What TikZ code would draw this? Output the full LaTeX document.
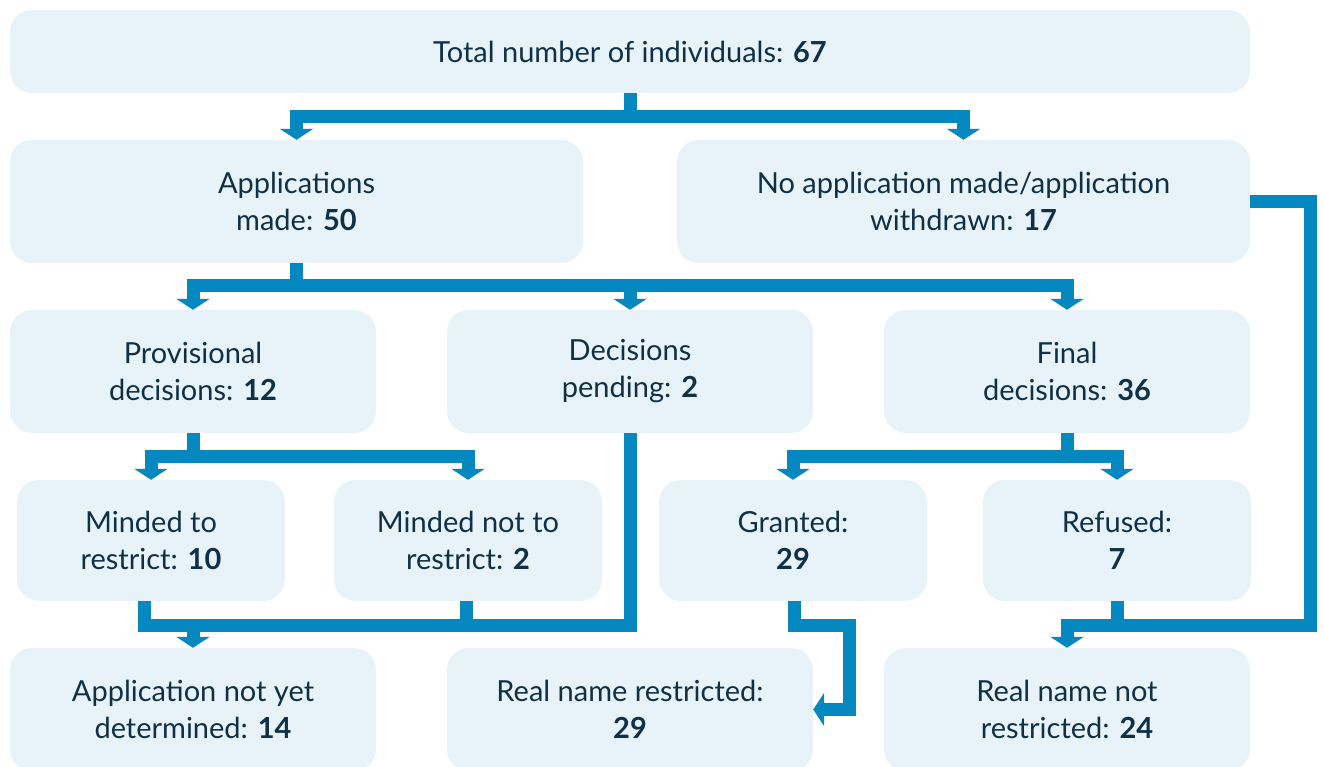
\documentclass[tikz,border=0pt]{standalone}
\usepackage{fontspec}
\setmainfont{Lato}
\usetikzlibrary{arrows.meta}
\definecolor{boxfill}{RGB}{231,243,248}
\definecolor{conn}{RGB}{5,135,191}
\definecolor{txt}{RGB}{16,48,71}
\tikzset{
  box/.style={rectangle, rounded corners=22pt, fill=boxfill, draw=none, inner sep=0pt,
    align=center, text=txt, font=\fontsize{29}{37}\selectfont},
  ln/.style={draw=conn, line width=13pt, line join=miter},
  arr/.style={ln, -{Triangle[width=33pt,length=11pt]}},
}
\begin{document}
\begin{tikzpicture}[x=1pt,y=-1pt]
\useasboundingbox[fill=white] (0,0) rectangle (1324,767);
% boxes
\node[box, minimum width=1240pt, minimum height=83pt] (top) at (630,51.5) {Total number of individuals: \textbf{67}};
\node[box, minimum width=573pt, minimum height=123pt] (app) at (296.5,201.5) {Applications\\made: \textbf{50}};
\node[box, minimum width=573pt, minimum height=123pt] (noapp) at (963.5,201.5) {No application made/application\\withdrawn: \textbf{17}};
\node[box, minimum width=366pt, minimum height=123pt] (prov) at (193,371.5) {Provisional\\decisions: \textbf{12}};
\node[box, minimum width=366pt, minimum height=123pt] (pend) at (630,371.5) {Decisions\\pending: \textbf{2}};
\node[box, minimum width=366pt, minimum height=123pt] (final) at (1067,371.5) {Final\\decisions: \textbf{36}};
\node[box, minimum width=268pt, minimum height=121pt] (mto) at (151,540.5) {Minded to\\restrict: \textbf{10}};
\node[box, minimum width=268pt, minimum height=121pt] (mnot) at (468,540.5) {Minded not to\\restrict: \textbf{2}};
\node[box, minimum width=268pt, minimum height=121pt] (gr) at (793,540.5) {Granted:\\\textbf{29}};
\node[box, minimum width=268pt, minimum height=121pt] (ref) at (1117,540.5) {Refused:\\\textbf{7}};
\node[box, minimum width=366pt, minimum height=123pt] (anyd) at (193,709.5) {Application not yet\\determined: \textbf{14}};
\node[box, minimum width=366pt, minimum height=123pt] (rnr) at (630,709.5) {Real name restricted:\\\textbf{29}};
\node[box, minimum width=366pt, minimum height=123pt] (rnn) at (1067,709.5) {Real name not\\restricted: \textbf{24}};
% junction coordinates
\coordinate (b1) at (630,116.5);
\coordinate (b2) at (296.5,285);
\coordinate (b3) at (193,456.5);
\coordinate (b4) at (1067,456.5);
\coordinate (b5) at (193,625);
\coordinate (g1) at (849.5,625);
\coordinate (c1) at (1310,625);
% connectors
\draw[ln] (top.south) -- (b1);
\draw[arr] (b1) -| (app.north);
\draw[arr] (b1) -| (noapp.north);
\draw[ln] (app.south) -- (b2);
\draw[arr] (b2) -| (prov.north);
\draw[arr] (b2) -| (final.north);
\draw[arr] (pend.north |- b2) -- (pend.north);
\draw[ln] (prov.south) -- (b3);
\draw[arr] (b3) -| (mto.north);
\draw[arr] (b3) -| (mnot.north);
\draw[ln] (final.south) -- (b4);
\draw[arr] (b4) -| (gr.north);
\draw[arr] (b4) -| (ref.north);
\draw[ln] ([xshift=-7pt]mto.south) |- (pend.south |- b5) -- (pend.south);
\draw[ln] ([xshift=-1.5pt]mnot.south) -- ([xshift=-1.5pt]mnot.south |- b5);
\draw[arr] (b5) -- (anyd.north);
\draw[arr] ([xshift=1.5pt]gr.south) |- (g1) |- (rnr.east);
\draw[arr] (noapp.east) -| (c1) -| (rnn.north);
\draw[ln] (ref.south) -- (ref.south |- c1);
\end{tikzpicture}
\end{document}
